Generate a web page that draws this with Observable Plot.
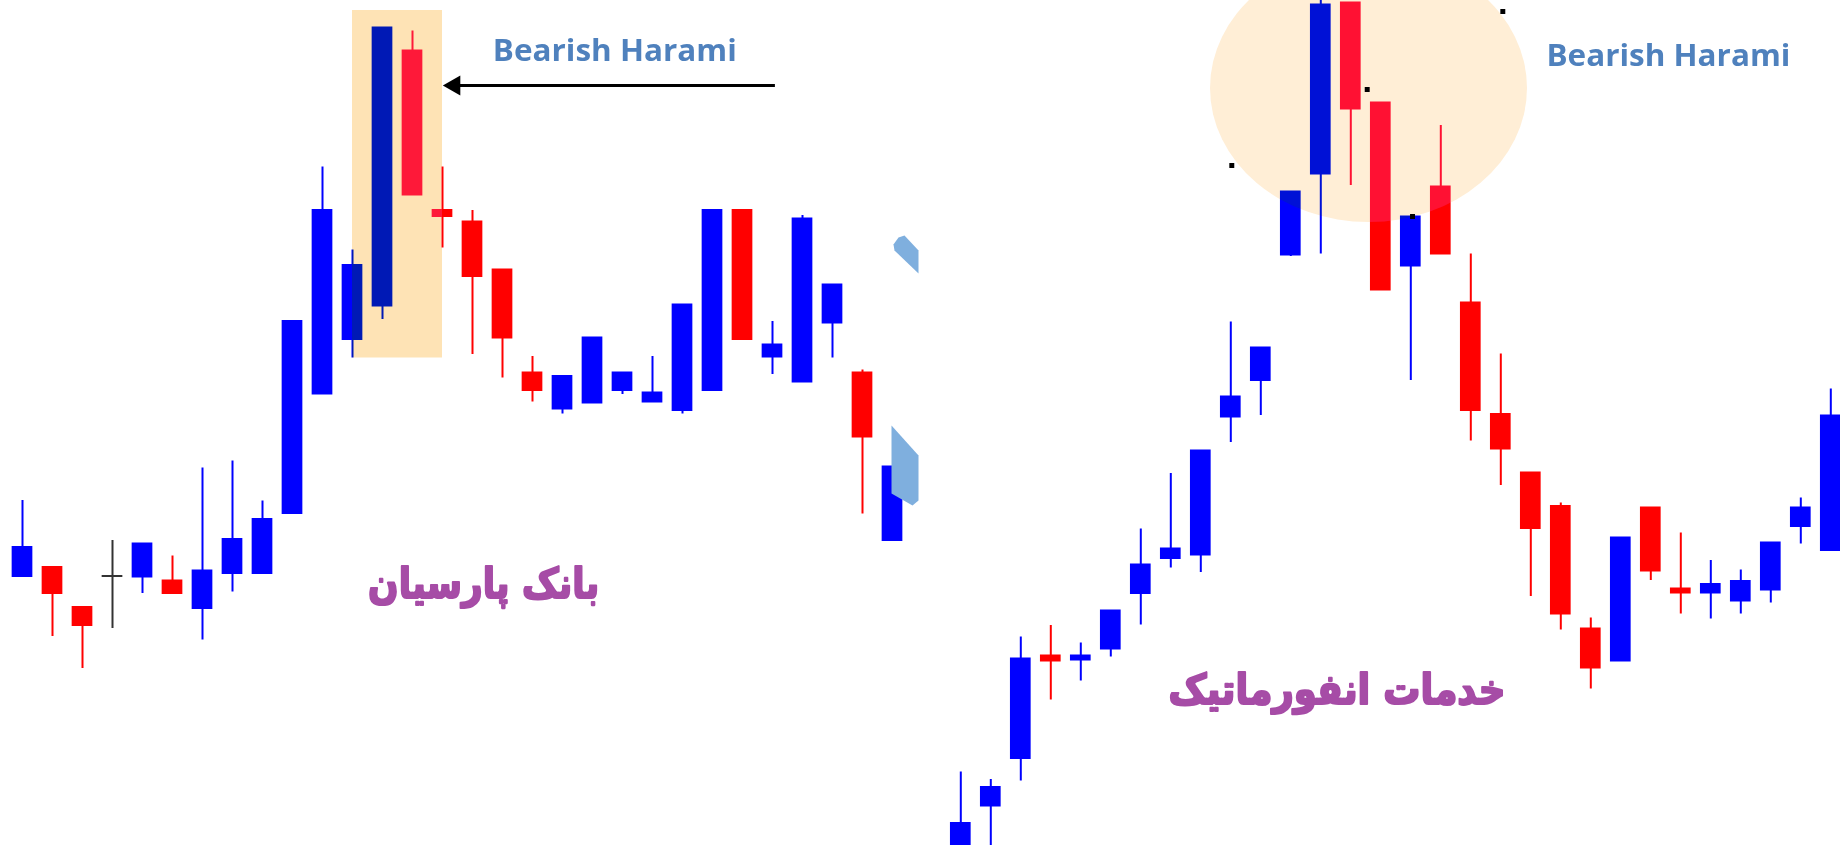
<!DOCTYPE html>
<html>
<head>
<meta charset="utf-8">
<script src="https://cdn.jsdelivr.net/npm/d3@7"></script>
<script src="https://cdn.jsdelivr.net/npm/@observablehq/plot@0.6"></script>
<style>
html, body { margin: 0; padding: 0; background: #fff; overflow: hidden; }
#wrap { position: relative; width: 1840px; height: 845px; overflow: hidden; background: #fff; }
#left { position: absolute; left: 0; top: 0; width: 920px; height: 845px; }
#right { position: absolute; left: 920px; top: 0; width: 920px; height: 845px; }
</style>
</head>
<body>
<div id="wrap"><div id="left"></div><div id="right"></div></div>
<script>
// ---------- Left chart: بانک پارسیان ----------
const leftDay   = [1,2,3,4,5,6,7,8,9,10,11,12,13,14,15,16,17,18,19,20,21,22,23,24,25,26,27,28,29,30];
const leftOpen  = [1248,1266,1186,1248,1247,1239,1184,1254,1254,1374,1613,1722,1789,2299,1980,1957,1861,1655,1583,1595,1620,1597,1580,1620,1980,1687,1637,1755,1655,1320];
const leftHigh  = [1400,1266,1186,1320,1313,1289,1465,1479,1399,1758,2067,1901,2345,2339,2067,1980,1861,1688,1648,1725,1655,1688,1791,1980,1980,1758,1970,1831,1661,1467];
const leftLow   = [1248,1128,1064,1144,1214,1214,1121,1217,1254,1374,1613,1685,1762,2011,1905,1692,1645,1597,1573,1595,1612,1597,1573,1620,1722,1652,1637,1685,1373,1320];
const leftClose = [1306,1214,1150,1248,1313,1214,1259,1322,1362,1758,1980,1870,2345,2011,1968,1848,1725,1620,1648,1725,1655,1615,1791,1980,1722,1711,1963,1831,1527,1467];

// ---------- Right chart: خدمات انفورماتیک ----------
const rightDay   = [1,2,3,4,5,6,7,8,9,10,11,12,13,14,15,16,17,18,19,20,21,22,23,24,25,26,27,28,29,30];
const rightOpen  = [2280,2389,2484,2689,2681,2703,2814,2884,2891,3167,3240,3491,3653,3995,3795,3469,3627,3395,3172,3055,2988,2743,2679,2985,2823,2815,2799,2821,2948,2900];
const rightHigh  = [2457,2442,2727,2750,2715,2779,2943,3054,3099,3357,3305,3617,4010,3996,3795,3567,3750,3493,3293,3055,2995,2765,2925,2985,2935,2880,2861,2915,3005,3223];
const rightLow   = [2268,2300,2439,2601,2639,2687,2751,2865,2856,3116,3170,3488,3493,3630,3421,3240,3493,3119,3030,2808,2741,2623,2679,2840,2773,2763,2773,2795,2913,2900];
const rightClose = [2354,2426,2683,2679,2689,2779,2871,2903,3099,3207,3305,3617,3991,3783,3421,3567,3493,3180,3103,2944,2773,2665,2925,2859,2815,2832,2838,2915,2985,3169];

// ---------- Labels ----------
const patternLabel = "Bearish Harami";
const leftName = "بانک پارسیان";
const rightName = "خدمات انفورماتیک";

// ---------- Annotations (data units: day, price) ----------
const leftHighlight = [{x1: 12, x2: 15, y1: 1685, y2: 2380}];
const leftArrow = [{x1: 26.08, x2: 15.4, y: 2230}];
const leftHatch = [
  {shape: "a", x: 30.033, y: 1912}, {shape: "a", x: 30.2, y: 1926}, {shape: "a", x: 30.4, y: 1930},
  {shape: "a", x: 30.867, y: 1900}, {shape: "a", x: 30.867, y: 1854}, {shape: "a", x: 30.067, y: 1900},
  {shape: "b", x: 29.967, y: 1550}, {shape: "b", x: 30.867, y: 1490}, {shape: "b", x: 30.867, y: 1400},
  {shape: "b", x: 30.667, y: 1390}, {shape: "b", x: 29.967, y: 1414}
];
const rightEllipse = {cx: 14.607, cy: 3824, rx: 5.283, ry: 268};
const rightHandles = [{x: 10.033, y: 3670}, {x: 14.547, y: 3822}, {x: 19.067, y: 3978}, {x: 16.057, y: 3568}];

function table(day, open, high, low, close) {
  return day.map((d, k) => ({day: d, open: open[k], high: high[k], low: low[k], close: close[k]}));
}
const leftData = table(leftDay, leftOpen, leftHigh, leftLow, leftClose);
const rightData = table(rightDay, rightOpen, rightHigh, rightLow, rightClose);

const BLUE = "#0000ff", RED = "#ff0000", DOJI = "#333333";
const colorOf = d => d.close > d.open ? BLUE : d.close < d.open ? RED : DOJI;
const HALF = 0.345;
const XL = [0.26667, 30.93333], YL = [710, 2400];
const XR = [-0.34333, 30.32333], YR = [2310, 4000];

function candles(data) {
  return [
    Plot.ruleX(data, {x: "day", y1: "low", y2: "high", stroke: colorOf, strokeWidth: 2}),
    Plot.rect(data, {x1: d => d.day - HALF, x2: d => d.day + HALF, y1: "open", y2: "close",
      fill: colorOf, insetTop: -1, insetBottom: -1})
  ];
}
const nameStyle = {textAnchor: "middle", lineAnchor: "middle", fontFamily: "DejaVu Sans", fontWeight: 700,
  fontSize: 42, fill: "#a64ca6", stroke: "#a64ca6", strokeWidth: 2.2};
const titleStyle = {textAnchor: "start", lineAnchor: "bottom", fontFamily: "Open Sans", fontWeight: 700,
  fontSize: 31, fill: "#4f81bd"};

const leftPlot = Plot.plot({
  width: 920, height: 845, margin: 0,
  x: {type: "linear", domain: XL, axis: null},
  y: {domain: YL, axis: null},
  marks: [
    Plot.frame({fill: "white", stroke: "none"}),
    ...candles(leftData),
    Plot.rect(leftHighlight, {x1: "x1", x2: "x2", y1: "y1", y2: "y2", fill: "rgb(0,28,80)", mixBlendMode: "screen"}),
    Plot.rect(leftHighlight, {x1: "x1", x2: "x2", y1: "y1", y2: "y2", fill: "rgb(254,227,181)", mixBlendMode: "multiply"}),
    Plot.line(leftHatch, {x: "x", y: "y", z: "shape", fill: "url(#hatchDots)", stroke: "none"}),
    Plot.link(leftArrow, {x1: "x1", x2: "x2", y1: "y", y2: "y", stroke: "black", strokeWidth: 3}),
    Plot.dot(leftArrow, {x: "x2", y: "y", symbol: "triangle", rotate: -90, r: 7.5, fill: "black", stroke: "none"}),
    Plot.text([patternLabel], {x: 16.677, y: 2280, text: d => d, ...titleStyle}),
    Plot.text([leftName], {x: 16.37, y: 1232, text: d => d, ...nameStyle})
  ]
});

const rightPlot = Plot.plot({
  width: 920, height: 845, margin: 0,
  x: {type: "linear", domain: XR, axis: null},
  y: {domain: YR, axis: null},
  marks: [
    Plot.frame({fill: "white", stroke: "none"}),
    ...candles(rightData),
    Plot.dot(rightHandles, {x: "x", y: "y", symbol: "square", r: 2.8, fill: "black", stroke: "none"}),
    Plot.text([patternLabel], {x: 20.52, y: 3869, text: d => d, ...titleStyle}),
    Plot.text([rightName], {x: 13.54, y: 2620, text: d => d, ...nameStyle})
  ]
});

function scaleFn(svg, name, domain, range) {
  try {
    const s = svg.scale(name);
    if (s && typeof s.apply === "function") return v => s.apply(v);
  } catch (e) {}
  return v => range[0] + (v - domain[0]) / (domain[1] - domain[0]) * (range[1] - range[0]);
}

function fitText(svg, content, len) {
  d3.select(svg).selectAll("text").filter(function () { return this.textContent === content; })
    .attr("textLength", len).attr("lengthAdjust", "spacingAndGlyphs");
}
d3.select(leftPlot).style("overflow", "hidden");
d3.select(rightPlot).style("overflow", "hidden");
fitText(leftPlot, patternLabel, 244);
fitText(rightPlot, patternLabel, 244);
fitText(leftPlot, leftName, 231);
fitText(rightPlot, rightName, 337);

d3.select(leftPlot).insert("defs", ":first-child").html(
  '<pattern id="hatchDots" width="2" height="2" patternUnits="userSpaceOnUse">' +
  '<rect width="2" height="2" fill="#c4ddf3"/><rect width="1" height="1" fill="#3a80c8"/>' +
  '<rect x="1" y="1" width="1" height="1" fill="#3a80c8"/></pattern>');

// Highlight ellipse on the right chart, positioned through the plot's own scales
(function () {
  const sx = scaleFn(rightPlot, "x", XR, [0, 920]);
  const sy = scaleFn(rightPlot, "y", YR, [845, 0]);
  const e = rightEllipse;
  const cx = sx(e.cx), cy = sy(e.cy);
  const rx = Math.abs(sx(e.cx + e.rx) - cx), ry = Math.abs(sy(e.cy + e.ry) - cy);
  // place right after the candle marks (before the handle squares and labels)
  const groups = Array.from(rightPlot.children).filter(n => n.tagName.toLowerCase() === "g");
  const dotsGroup = groups.find(g => g.querySelector("path")) || null;
  const g = document.createElementNS("http://www.w3.org/2000/svg", "g");
  rightPlot.insertBefore(g, dotsGroup);
  const gs = d3.select(g);
  gs.append("ellipse").attr("cx", cx).attr("cy", cy).attr("rx", rx).attr("ry", ry)
    .attr("fill", "rgb(0,18,60)").style("mix-blend-mode", "screen");
  gs.append("ellipse").attr("cx", cx).attr("cy", cy).attr("rx", rx).attr("ry", ry)
    .attr("fill", "rgb(255,238,214)").style("mix-blend-mode", "multiply");
})();

document.getElementById("left").appendChild(leftPlot);
document.getElementById("right").appendChild(rightPlot);
</script>
</body>
</html>
